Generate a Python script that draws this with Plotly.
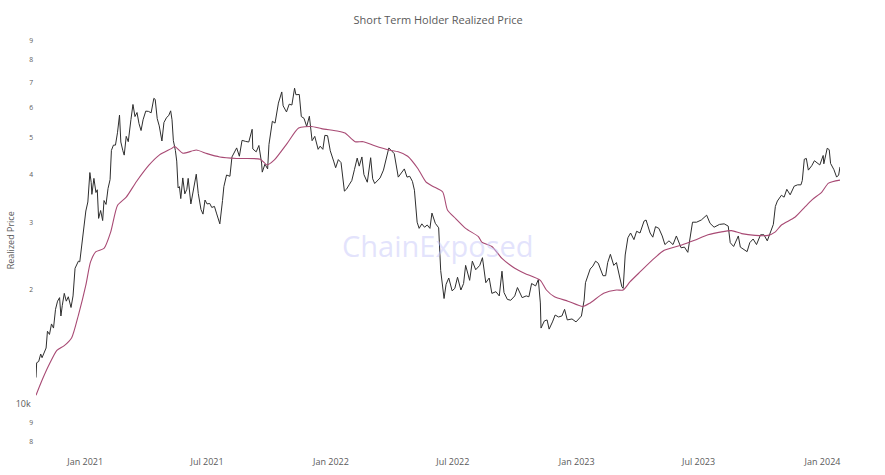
import plotly.graph_objects as go

# Bitcoin price (USD)
price_dates = [
    "2020-10-20","2020-10-21","2020-10-24","2020-10-27","2020-10-29","2020-11-01","2020-11-04","2020-11-06",
    "2020-11-09","2020-11-12","2020-11-15","2020-11-18","2020-11-21","2020-11-24","2020-11-26","2020-11-28",
    "2020-12-01","2020-12-04","2020-12-07","2020-12-11","2020-12-14","2020-12-17","2020-12-20","2020-12-22",
    "2020-12-24","2020-12-27","2020-12-30","2021-01-02","2021-01-05","2021-01-08","2021-01-10","2021-01-11",
    "2021-01-14","2021-01-17","2021-01-19","2021-01-21","2021-01-24","2021-01-27","2021-01-29","2021-02-01",
    "2021-02-04","2021-02-07","2021-02-09","2021-02-12","2021-02-15","2021-02-18","2021-02-21","2021-02-23",
    "2021-02-26","2021-02-28","2021-03-03","2021-03-06","2021-03-10","2021-03-13","2021-03-16","2021-03-19",
    "2021-03-22","2021-03-25","2021-03-28","2021-04-01","2021-04-05","2021-04-09","2021-04-13","2021-04-15",
    "2021-04-18","2021-04-21","2021-04-25","2021-04-28","2021-05-02","2021-05-05","2021-05-08","2021-05-10",
    "2021-05-12","2021-05-15","2021-05-17","2021-05-19","2021-05-21","2021-05-23","2021-05-26","2021-05-29",
    "2021-06-01","2021-06-03","2021-06-07","2021-06-11","2021-06-15","2021-06-18","2021-06-22","2021-06-25",
    "2021-06-28","2021-07-01","2021-07-05","2021-07-08","2021-07-12","2021-07-15","2021-07-20","2021-07-24",
    "2021-07-26","2021-07-30","2021-08-04","2021-08-07","2021-08-10","2021-08-14","2021-08-18","2021-08-22",
    "2021-08-27","2021-09-01","2021-09-06","2021-09-07","2021-09-12","2021-09-16","2021-09-20","2021-09-21",
    "2021-09-25","2021-09-29","2021-10-01","2021-10-06","2021-10-10","2021-10-15","2021-10-20","2021-10-22",
    "2021-10-27","2021-10-31","2021-11-04","2021-11-08","2021-11-10","2021-11-15","2021-11-18","2021-11-22",
    "2021-11-26","2021-11-30","2021-12-04","2021-12-08","2021-12-13","2021-12-16","2021-12-20","2021-12-23",
    "2021-12-27","2021-12-31","2022-01-05","2022-01-08","2022-01-12","2022-01-16","2022-01-21","2022-01-24",
    "2022-01-28","2022-02-01","2022-02-05","2022-02-09","2022-02-12","2022-02-16","2022-02-19","2022-02-24",
    "2022-03-01","2022-03-04","2022-03-07","2022-03-11","2022-03-15","2022-03-20","2022-03-24","2022-03-28",
    "2022-04-01","2022-04-05","2022-04-11","2022-04-15","2022-04-20","2022-04-24","2022-04-28","2022-05-02",
    "2022-05-05","2022-05-09","2022-05-12","2022-05-16","2022-05-20","2022-05-24","2022-05-28","2022-05-31",
    "2022-06-05","2022-06-10","2022-06-13","2022-06-18","2022-06-21","2022-06-25","2022-06-30","2022-07-04",
    "2022-07-08","2022-07-13","2022-07-17","2022-07-20","2022-07-26","2022-07-30","2022-08-04","2022-08-10",
    "2022-08-14","2022-08-19","2022-08-24","2022-08-28","2022-09-03","2022-09-08","2022-09-12","2022-09-15",
    "2022-09-20","2022-09-25","2022-10-01","2022-10-05","2022-10-12","2022-10-18","2022-10-22","2022-10-26",
    "2022-11-01","2022-11-05","2022-11-08","2022-11-09","2022-11-14","2022-11-18","2022-11-21","2022-11-26",
    "2022-11-30","2022-12-05","2022-12-10","2022-12-14","2022-12-18","2022-12-25","2022-12-31","2023-01-08",
    "2023-01-12","2023-01-14","2023-01-21","2023-01-25","2023-01-29","2023-02-02","2023-02-09","2023-02-13",
    "2023-02-16","2023-02-20","2023-02-25","2023-03-01","2023-03-09","2023-03-11","2023-03-14","2023-03-18",
    "2023-03-22","2023-03-27","2023-03-31","2023-04-05","2023-04-11","2023-04-14","2023-04-20","2023-04-24",
    "2023-04-28","2023-05-03","2023-05-08","2023-05-12","2023-05-18","2023-05-24","2023-05-29","2023-06-05",
    "2023-06-10","2023-06-15","2023-06-20","2023-06-22","2023-06-28","2023-07-05","2023-07-13","2023-07-18",
    "2023-07-24","2023-08-01","2023-08-08","2023-08-14","2023-08-17","2023-08-22","2023-08-29","2023-09-01",
    "2023-09-11","2023-09-15","2023-09-20","2023-09-25","2023-10-01","2023-10-06","2023-10-11","2023-10-16",
    "2023-10-20","2023-10-23","2023-10-26","2023-11-01","2023-11-05","2023-11-09","2023-11-14","2023-11-20",
    "2023-11-25","2023-11-30","2023-12-02","2023-12-05","2023-12-08","2023-12-11","2023-12-16","2023-12-20",
    "2023-12-24","2023-12-28","2024-01-02","2024-01-03","2024-01-08","2024-01-11","2024-01-13","2024-01-18",
    "2024-01-22","2024-01-25","2024-01-27",
]
price_values = [
    11800,12900,13000,13600,13300,13700,14100,15600,
    15300,16300,15900,17800,18700,19100,17100,18200,
    19600,18700,19200,18000,19300,22800,23500,23800,
    23700,26300,28900,32200,34000,40600,38200,35600,
    39200,36000,36600,30800,32300,30400,34300,33500,
    36900,38900,46400,47900,47900,51600,57400,48800,
    46300,45100,50500,48900,55900,61200,56900,58300,
    54500,52300,55800,58800,58700,58200,63500,63100,
    56200,53800,49100,54900,56600,57200,58900,55800,
    49200,46400,43500,37000,37300,34700,39300,35700,
    36700,39200,33600,37300,40200,35800,32500,31600,
    34400,33600,33700,32900,33100,31800,29800,34300,
    37300,40000,39700,44600,45600,47100,44800,49300,
    49000,48800,52700,46800,46000,47800,43000,40700,
    42700,41500,48100,55300,54700,61700,66000,60700,
    58500,61300,61000,67500,64900,65000,56900,56300,
    53600,57000,49200,50500,46700,47600,46700,50800,
    50700,46300,43500,41800,43900,43100,36300,36700,
    37700,38700,41400,44300,42200,44600,40100,38300,
    44400,39100,38000,38700,39300,41200,44000,47100,
    46300,45500,39500,40500,41500,39500,39700,38500,
    36500,30100,29000,29800,29200,29600,29000,31800,
    29900,29100,22500,19000,20700,21500,19900,20200,
    21600,20000,20800,23200,21200,23800,22600,23200,
    24300,20900,21500,19600,19800,19300,22400,19700,
    18900,18800,19300,20300,19100,19300,19200,20800,
    20500,21300,18500,15900,16600,16700,15800,16500,
    17200,17000,17100,17800,16700,16800,16500,17100,
    18800,20900,22700,23100,23800,23500,21800,21800,
    23600,24800,23200,23600,20400,20200,24700,27400,
    28200,27100,28500,28200,30300,30500,28200,27500,
    29300,29000,27700,26300,26900,26300,27700,25800,
    25900,25100,28300,30100,30100,30500,31400,29900,
    29200,29700,29800,29400,26600,26000,27700,25900,
    25200,26600,27200,26300,27900,27900,26900,28500,
    29700,33100,34200,35400,35000,36700,35500,37400,
    37700,37700,38700,44000,44200,41200,42300,43600,
    43000,42500,45000,42800,47000,46600,42900,41300,
    39500,40000,42000,
]

# Short term holder realized price (USD)
sth_dates = [
    "2020-10-20","2020-10-28","2020-11-08","2020-11-20","2020-12-01","2020-12-12","2020-12-22","2021-01-02",
    "2021-01-09","2021-01-17","2021-01-29","2021-02-08","2021-02-18","2021-03-03","2021-03-18","2021-04-06",
    "2021-04-21","2021-05-09","2021-05-14","2021-05-26","2021-06-15","2021-07-01","2021-07-20","2021-08-14",
    "2021-09-18","2021-09-28","2021-10-09","2021-10-28","2021-11-14","2021-12-03","2021-12-18","2022-01-12",
    "2022-01-22","2022-02-06","2022-02-18","2022-03-07","2022-03-28","2022-04-11","2022-04-25","2022-05-10",
    "2022-05-22","2022-06-01","2022-06-16","2022-06-23","2022-07-05","2022-07-20","2022-08-08","2022-08-13",
    "2022-08-28","2022-09-12","2022-10-01","2022-10-16","2022-11-08","2022-11-17","2022-11-29","2022-12-19",
    "2023-01-10","2023-01-21","2023-02-10","2023-03-01","2023-03-11","2023-03-21","2023-04-05","2023-04-26",
    "2023-05-11","2023-06-05","2023-06-25","2023-07-15","2023-08-04","2023-08-19","2023-09-03","2023-09-23",
    "2023-10-12","2023-10-23","2023-11-01","2023-11-21","2023-12-06","2023-12-16","2023-12-31","2024-01-10",
    "2024-01-27",
]
sth_values = [
    10600,11500,12700,13900,14300,15000,17200,20600,
    23700,25200,25700,28400,33300,35000,38400,42500,
    45100,46900,47500,45600,46500,45500,44600,44200,
    44000,42500,43800,48400,53100,53600,52900,52100,
    51500,48900,48900,47700,46500,46000,44800,41600,
    38400,37400,36100,32400,30800,29000,27600,26700,
    26000,24200,22800,22100,21200,20000,19200,18700,
    18100,18500,19600,20000,20000,21000,22300,24200,
    25400,26200,27000,27900,28400,28600,28100,27800,
    27800,28400,29600,31000,33000,34400,36100,38100,
    38800,
]

font_family = "Open Sans, sans-serif"
grey = "#5a5a5a"

fig = go.Figure()
fig.add_trace(go.Scatter(
    x=price_dates, y=price_values, mode="lines", name="Price",
    line=dict(color="#2e2e2e", width=1), showlegend=False,
))
fig.add_trace(go.Scatter(
    x=sth_dates, y=sth_values, mode="lines", name="STH Realized Price",
    line=dict(color="#a84a74", width=1.1, shape="spline", smoothing=0.6),
    showlegend=False,
))

fig.update_layout(
    width=885, height=475,
    margin=dict(l=36, r=45, t=30, b=25),
    paper_bgcolor="white", plot_bgcolor="white",
    title=dict(text="Short Term Holder Realized Price", x=0.495, xanchor="center",
               y=0.958, yanchor="middle",
               font=dict(family=font_family, size=11, color=grey)),
    xaxis=dict(
        type="date", showgrid=False, zeroline=False, showline=False,
        range=[price_dates[0], price_dates[-1]],
        tick0="2021-01-01", dtick="M6", tickformat="%b %Y",
        tickfont=dict(family=font_family, size=9, color=grey),
        automargin=False, ticklabelstandoff=5,
    ),
    yaxis=dict(
        type="log", showgrid=False, zeroline=False, showline=False,
        range=[3.8822, 4.9817], dtick="D1",
        tickfont=dict(family=font_family, size=9, color=grey),
        automargin=False, ticklabelstandoff=2,
    ),
    annotations=[
        dict(text="ChainExposed", xref="paper", yref="paper", x=0.5, y=0.488,
             showarrow=False, font=dict(family=font_family, size=29,
                                        color="rgba(200,200,250,0.5)")),
        dict(text="Realized Price", xref="paper", yref="paper", x=-0.032, y=0.5,
             xanchor="center", yanchor="middle", textangle=-90, showarrow=False,
             font=dict(family=font_family, size=9, color=grey)),
    ],
)

fig.write_html("out.html")
